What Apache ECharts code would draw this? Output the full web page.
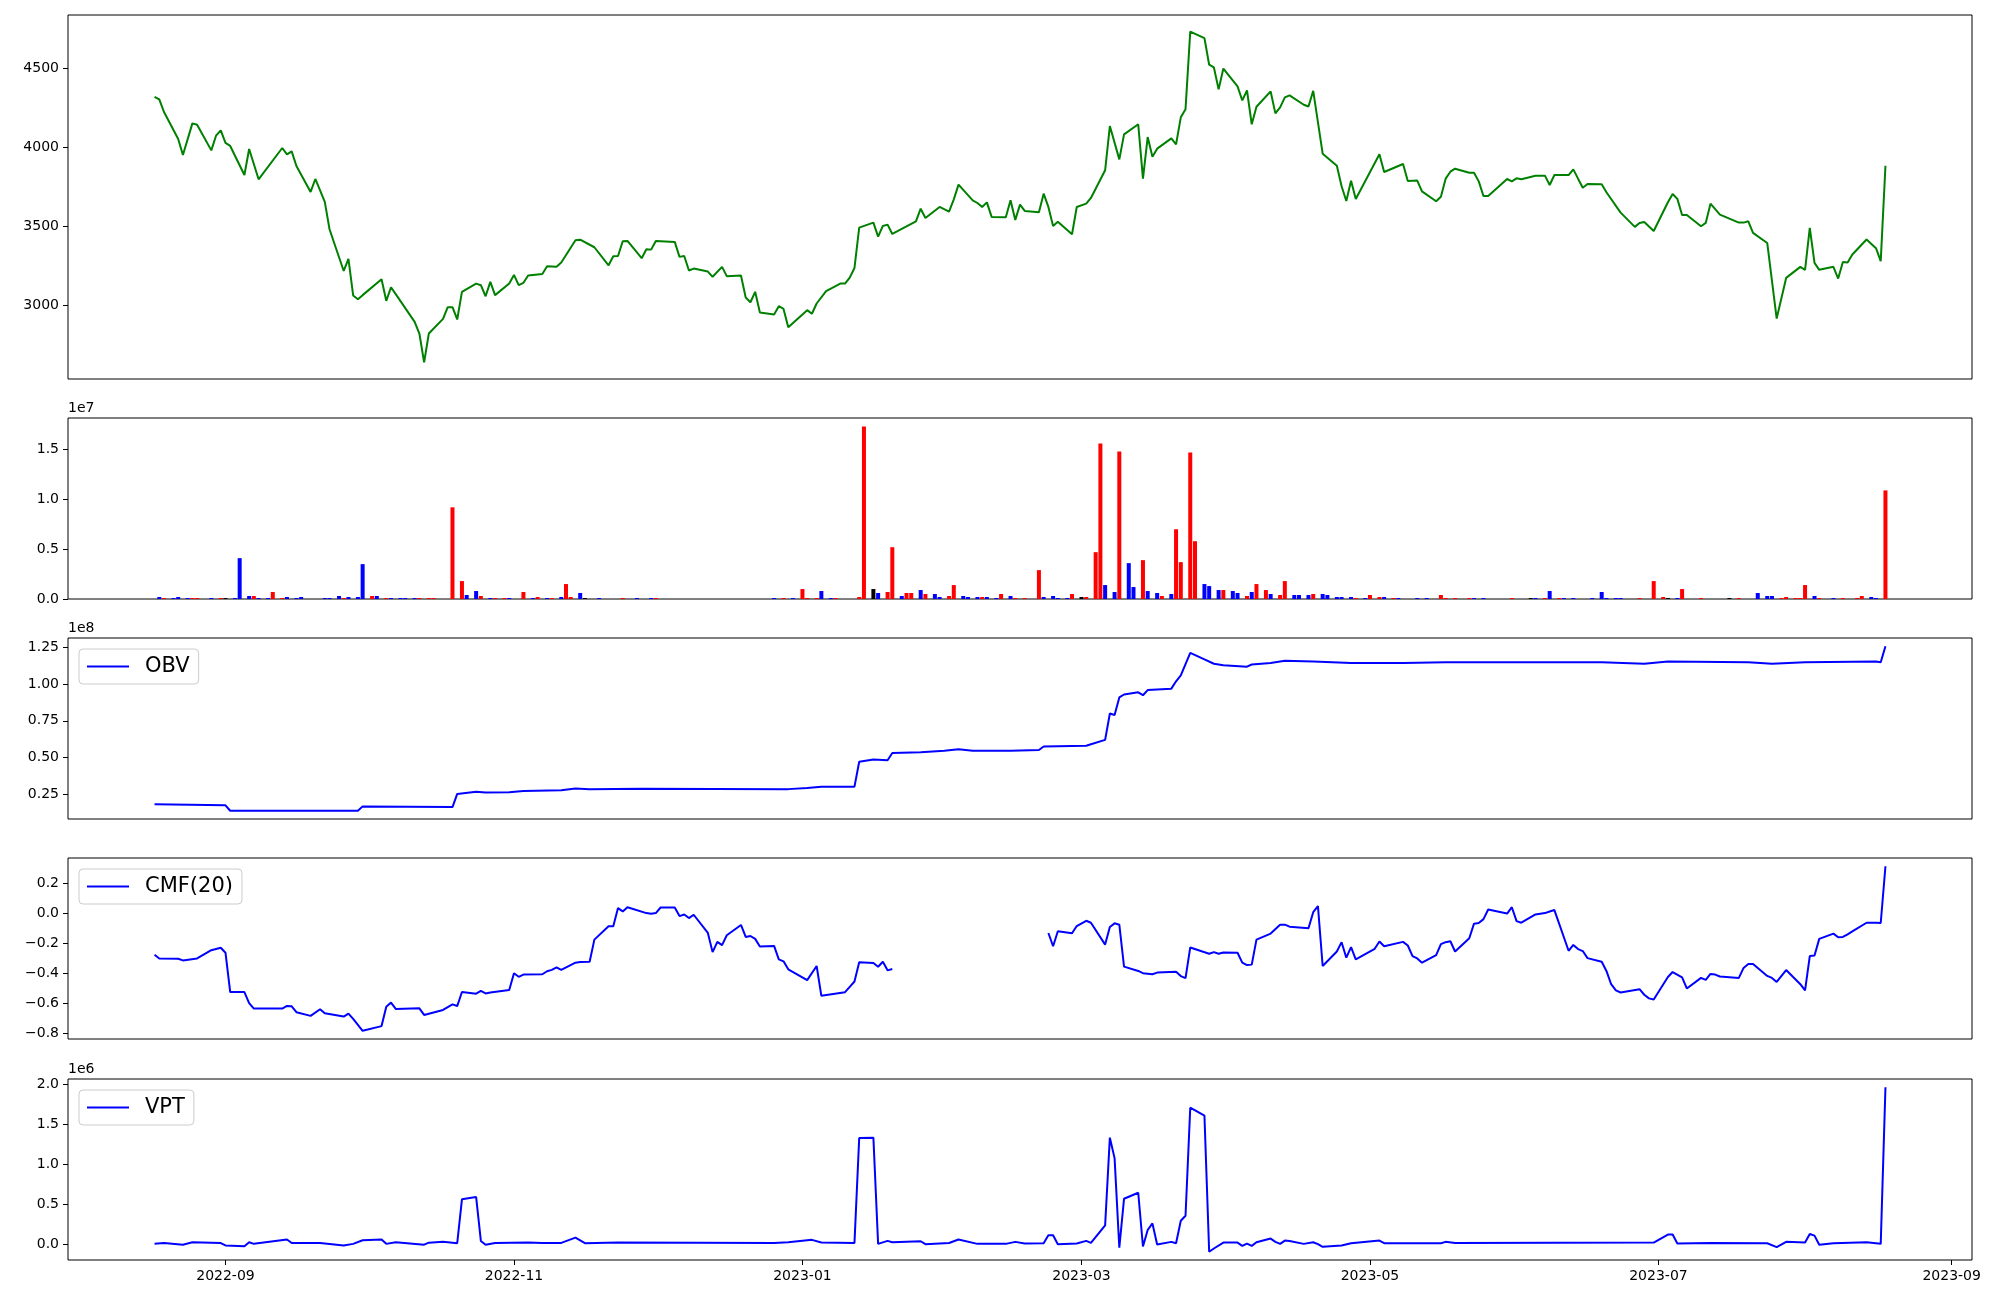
<!DOCTYPE html>
<html>
<head>
<meta charset="utf-8">
<title>Price, volume and volume indicators</title>
<script src="https://cdn.jsdelivr.net/npm/echarts@6/dist/echarts.min.js"></script>
<style>
  html, body { margin: 0; padding: 0; background: #fff; }
  #chart { width: 2000px; height: 1300px; }
</style>
</head>
<body>
<div id="chart"></div>
<script>
// ---- values ----

// closing price (turning points of the line)
const priceDates = [
  '2022-08-17','2022-08-18','2022-08-19','2022-08-22','2022-08-23','2022-08-25','2022-08-26','2022-08-29','2022-08-30','2022-08-31',
  '2022-09-01','2022-09-02','2022-09-05','2022-09-06','2022-09-08','2022-09-13','2022-09-14','2022-09-15','2022-09-16','2022-09-19',
  '2022-09-20','2022-09-22','2022-09-23','2022-09-26','2022-09-27','2022-09-28','2022-09-29','2022-09-30','2022-10-04','2022-10-05',
  '2022-10-06','2022-10-07','2022-10-11','2022-10-12','2022-10-13','2022-10-14','2022-10-17','2022-10-18','2022-10-19','2022-10-20',
  '2022-10-21','2022-10-24','2022-10-25','2022-10-26','2022-10-27','2022-10-28','2022-10-31','2022-11-01','2022-11-02','2022-11-03',
  '2022-11-04','2022-11-07','2022-11-08','2022-11-10','2022-11-11','2022-11-14','2022-11-15','2022-11-18','2022-11-21','2022-11-22',
  '2022-11-23','2022-11-24','2022-11-25','2022-11-28','2022-11-29','2022-11-30','2022-12-01','2022-12-05','2022-12-06','2022-12-07',
  '2022-12-08','2022-12-09','2022-12-12','2022-12-13','2022-12-15','2022-12-16','2022-12-19','2022-12-20','2022-12-21','2022-12-22',
  '2022-12-23','2022-12-26','2022-12-27','2022-12-28','2022-12-29','2023-01-02','2023-01-03','2023-01-04','2023-01-06','2023-01-09',
  '2023-01-10','2023-01-11','2023-01-12','2023-01-13','2023-01-16','2023-01-17','2023-01-18','2023-01-19','2023-01-20','2023-01-25',
  '2023-01-26','2023-01-27','2023-01-30','2023-02-01','2023-02-02','2023-02-03','2023-02-06','2023-02-07','2023-02-08','2023-02-09',
  '2023-02-10','2023-02-13','2023-02-14','2023-02-15','2023-02-16','2023-02-17','2023-02-20','2023-02-21','2023-02-22','2023-02-23',
  '2023-02-24','2023-02-27','2023-02-28','2023-03-02','2023-03-03','2023-03-06','2023-03-07','2023-03-09','2023-03-10','2023-03-13',
  '2023-03-14','2023-03-15','2023-03-16','2023-03-17','2023-03-20','2023-03-21','2023-03-22','2023-03-23','2023-03-24','2023-03-27',
  '2023-03-28','2023-03-29','2023-03-30','2023-03-31','2023-04-03','2023-04-04','2023-04-05','2023-04-06','2023-04-07','2023-04-10',
  '2023-04-11','2023-04-12','2023-04-13','2023-04-14','2023-04-17','2023-04-18','2023-04-19','2023-04-21','2023-04-24','2023-04-25',
  '2023-04-26','2023-04-27','2023-04-28','2023-05-03','2023-05-04','2023-05-08','2023-05-09','2023-05-11','2023-05-12','2023-05-15',
  '2023-05-16','2023-05-17','2023-05-18','2023-05-19','2023-05-22','2023-05-23','2023-05-24','2023-05-25','2023-05-26','2023-05-30',
  '2023-05-31','2023-06-01','2023-06-02','2023-06-05','2023-06-07','2023-06-08','2023-06-09','2023-06-12','2023-06-13','2023-06-14',
  '2023-06-15','2023-06-16','2023-06-19','2023-06-20','2023-06-23','2023-06-26','2023-06-27','2023-06-28','2023-06-30','2023-07-03',
  '2023-07-04','2023-07-05','2023-07-06','2023-07-07','2023-07-10','2023-07-11','2023-07-12','2023-07-14','2023-07-18','2023-07-19',
  '2023-07-20','2023-07-21','2023-07-24','2023-07-26','2023-07-28','2023-07-31','2023-08-01','2023-08-02','2023-08-03','2023-08-04',
  '2023-08-07','2023-08-08','2023-08-09','2023-08-10','2023-08-11','2023-08-14','2023-08-16','2023-08-17','2023-08-18'
];
const priceVals = [
  4318,4302,4222,4051,3950,4150,4141,3979,4072,4106,
  4026,4007,3823,3988,3796,3994,3954,3973,3880,3716,
  3798,3653,3480,3216,3292,3061,3037,3063,3164,3027,
  3113,3069,2894,2820,2637,2820,2913,2987,2987,2909,
  3084,3136,3126,3056,3147,3063,3136,3191,3126,3141,
  3187,3197,3246,3242,3269,3410,3414,3366,3252,3309,
  3311,3404,3406,3297,3353,3351,3406,3400,3305,3311,
  3219,3231,3212,3179,3242,3183,3187,3048,3018,3084,
  2953,2940,2993,2976,2860,2968,2945,3010,3088,3136,
  3136,3174,3235,3490,3522,3433,3501,3509,3450,3530,
  3610,3551,3621,3591,3669,3762,3663,3646,3621,3650,
  3558,3556,3663,3539,3636,3596,3587,3705,3621,3501,
  3528,3448,3621,3642,3678,3853,4133,3922,4080,4144,
  3800,4063,3939,3990,4055,4017,4188,4240,4731,4689,
  4521,4504,4365,4497,4384,4295,4358,4144,4255,4352,
  4213,4251,4314,4327,4268,4257,4356,3958,3882,3752,
  3659,3787,3671,3954,3842,3893,3785,3788,3720,3657,
  3686,3800,3844,3863,3838,3838,3783,3690,3690,3798,
  3783,3802,3796,3819,3819,3760,3823,3823,3859,3800,
  3743,3766,3764,3714,3585,3495,3520,3526,3469,3651,
  3703,3672,3570,3570,3499,3520,3642,3572,3522,3522,
  3530,3457,3393,2915,3172,3242,3223,3488,3267,3223,
  3242,3168,3273,3269,3320,3415,3360,3278,3882
];

// volume bars: r = red, b = blue, k = black
const volDates = [
  '2022-08-18','2022-08-19','2022-08-21','2022-08-22','2022-08-24','2022-08-25','2022-08-26','2022-08-29','2022-08-31','2022-09-01',
  '2022-09-03','2022-09-04','2022-09-06','2022-09-07','2022-09-08','2022-09-10','2022-09-11','2022-09-13','2022-09-14','2022-09-16',
  '2022-09-17','2022-09-22','2022-09-23','2022-09-25','2022-09-26','2022-09-27','2022-09-29','2022-09-30','2022-10-02','2022-10-03',
  '2022-10-05','2022-10-06','2022-10-08','2022-10-09','2022-10-11','2022-10-12','2022-10-14','2022-10-15','2022-10-19','2022-10-21',
  '2022-10-22','2022-10-24','2022-10-25','2022-10-27','2022-10-28','2022-10-30','2022-10-31','2022-11-03','2022-11-05','2022-11-06',
  '2022-11-08','2022-11-09','2022-11-11','2022-11-12','2022-11-13','2022-11-15','2022-11-16','2022-11-19','2022-11-24','2022-11-27',
  '2022-11-30','2022-12-01',
  '2022-12-26','2022-12-28','2022-12-30','2023-01-01','2023-01-02','2023-01-04','2023-01-05','2023-01-07','2023-01-08','2023-01-13',
  '2023-01-14','2023-01-16','2023-01-17','2023-01-19','2023-01-20','2023-01-22','2023-01-23','2023-01-24','2023-01-26','2023-01-27',
  '2023-01-29','2023-01-30','2023-02-01','2023-02-02','2023-02-04','2023-02-05','2023-02-07','2023-02-08','2023-02-09','2023-02-11',
  '2023-02-12','2023-02-14','2023-02-15','2023-02-17','2023-02-20','2023-02-21','2023-02-23','2023-02-24','2023-02-26','2023-02-27',
  '2023-03-01','2023-03-02','2023-03-04','2023-03-05','2023-03-06','2023-03-08','2023-03-09','2023-03-11','2023-03-12','2023-03-14',
  '2023-03-15','2023-03-17','2023-03-18','2023-03-20','2023-03-21','2023-03-22','2023-03-24','2023-03-25','2023-03-27','2023-03-28',
  '2023-03-30','2023-03-31','2023-04-02','2023-04-03','2023-04-05','2023-04-06','2023-04-07','2023-04-09','2023-04-10','2023-04-12',
  '2023-04-13','2023-04-15','2023-04-16','2023-04-18','2023-04-19',
  '2023-04-21','2023-04-22','2023-04-24','2023-04-25','2023-04-27','2023-04-28','2023-04-30','2023-05-01','2023-05-03','2023-05-04',
  '2023-05-06','2023-05-07','2023-05-11','2023-05-13','2023-05-16','2023-05-17','2023-05-19','2023-05-22','2023-05-23','2023-05-25',
  '2023-05-31','2023-06-04','2023-06-05','2023-06-07','2023-06-08','2023-06-10','2023-06-11','2023-06-13','2023-06-17','2023-06-19',
  '2023-06-20','2023-06-22','2023-06-23','2023-06-27','2023-06-30','2023-07-02','2023-07-03','2023-07-05','2023-07-06','2023-07-10',
  '2023-07-16','2023-07-18','2023-07-22','2023-07-24','2023-07-25','2023-07-27','2023-07-28','2023-07-30','2023-07-31','2023-08-01',
  '2023-08-03','2023-08-04','2023-08-07','2023-08-09','2023-08-12','2023-08-13','2023-08-15','2023-08-16','2023-08-18'
];
const volVals = [
  2e5,1e5,1e5,2e5,1e5,1e5,1e5,1e5,1e5,1e5,
  1e5,41e5,3e5,3e5,1e5,1e5,7e5,1e5,2e5,1e5,
  2e5,1e5,1e5,3e5,1e5,2e5,2e5,35e5,3e5,3e5,
  1e5,1e5,1e5,1e5,1e5,1e5,1e5,1e5,92e5,18e5,
  4e5,8e5,3e5,1e5,1e5,1e5,1e5,7e5,1e5,2e5,
  1e5,1e5,2e5,15e5,2e5,6e5,1e5,1e5,1e5,1e5,
  1e5,1e5,
  1e5,1e5,1e5,10e5,1e5,1e5,8e5,1e5,1e5,2e5,
  173e5,10e5,6e5,7e5,52e5,3e5,6e5,6e5,9e5,5e5,
  5e5,2e5,3e5,14e5,3e5,2e5,2e5,2e5,2e5,1e5,
  5e5,3e5,1e5,1e5,29e5,2e5,3e5,1e5,1e5,5e5,
  2e5,2e5,47e5,156e5,14e5,7e5,148e5,36e5,12e5,39e5,
  8e5,6e5,3e5,5e5,70e5,37e5,147e5,58e5,15e5,13e5,
  9e5,9e5,8e5,6e5,3e5,7e5,15e5,9e5,5e5,4e5,
  18e5,4e5,4e5,4e5,5e5,
  5e5,4e5,2e5,2e5,2e5,1e5,1e5,4e5,2e5,2e5,
  1e5,1e5,1e5,1e5,4e5,1e5,1e5,1e5,1e5,1e5,
  1e5,1e5,1e5,1e5,8e5,1e5,1e5,1e5,1e5,7e5,
  1e5,1e5,1e5,1e5,18e5,2e5,1e5,1e5,10e5,1e5,
  1e5,1e5,6e5,3e5,3e5,1e5,2e5,1e5,1e5,14e5,
  3e5,1e5,1e5,1e5,1e5,3e5,2e5,1e5,109e5
];
const volColors = [
  'b','r','b','b','b','r','r','b','r','k',
  'b','b','b','r','b','b','r','r','b','b',
  'b','b','b','b','r','b','b','b','r','b',
  'r','b','b','b','b','r','r','r','r','r',
  'b','b','r','b','r','r','b','r','b','r',
  'b','r','b','r','r','b','k','b','r','b',
  'b','r',
  'b','r','b','r','r','r','b','b','r','r',
  'r','k','b','r','r','b','r','r','b','r',
  'b','b','r','r','b','b','b','r','b','b',
  'r','b','r','r','r','b','b','b','b','r',
  'k','r','r','r','b','b','r','b','b','r',
  'b','b','r','b','r','r','r','r','b','b',
  'b','r','b','b','r','b','r','r','b','r',
  'r','b','b','b','r',
  'b','b','b','b','b','r','b','r','r','b',
  'r','b','b','b','r','r','r','r','b','b',
  'r','k','b','r','b','r','b','b','b','b',
  'b','b','b','r','r','r','k','b','r','r',
  'k','r','b','b','b','r','r','r','r','r',
  'b','r','b','r','r','r','b','b','r'
];

// on-balance volume
const obvDates = [
  '2022-08-17','2022-09-01','2022-09-02','2022-09-29','2022-09-30','2022-10-19','2022-10-20','2022-10-24','2022-10-26','2022-10-31',
  '2022-11-03','2022-11-11','2022-11-14','2022-11-17','2022-11-28','2022-12-29','2023-01-02','2023-01-05','2023-01-12','2023-01-13',
  '2023-01-16','2023-01-19','2023-01-20','2023-01-26','2023-01-31','2023-02-03','2023-02-06','2023-02-14','2023-02-20','2023-02-21',
  '2023-03-02','2023-03-03','2023-03-06','2023-03-07','2023-03-08','2023-03-09','2023-03-10','2023-03-13','2023-03-14','2023-03-15',
  '2023-03-20','2023-03-21','2023-03-22','2023-03-24','2023-03-27','2023-03-29','2023-03-31','2023-04-05','2023-04-06','2023-04-10',
  '2023-04-13','2023-04-19','2023-04-27','2023-05-08','2023-05-17','2023-06-19','2023-06-28','2023-07-03','2023-07-20','2023-07-25',
  '2023-08-01','2023-08-16','2023-08-17','2023-08-18'
];
const obvVals = [
  0.180e8,0.172e8,0.135e8,0.135e8,0.165e8,0.160e8,0.250e8,0.265e8,0.260e8,0.262e8,
  0.270e8,0.275e8,0.288e8,0.282e8,0.285e8,0.283e8,0.290e8,0.300e8,0.300e8,0.470e8,
  0.485e8,0.480e8,0.530e8,0.535e8,0.545e8,0.555e8,0.545e8,0.545e8,0.550e8,0.575e8,
  0.580e8,0.590e8,0.620e8,0.800e8,0.790e8,0.910e8,0.930e8,0.945e8,0.925e8,0.960e8,
  0.970e8,1.020e8,1.060e8,1.215e8,1.170e8,1.140e8,1.130e8,1.120e8,1.135e8,1.145e8,
  1.160e8,1.155e8,1.145e8,1.145e8,1.150e8,1.150e8,1.140e8,1.155e8,1.150e8,1.140e8,
  1.150e8,1.155e8,1.150e8,1.260e8
];

// Chaikin money flow (20); null = no value in that stretch
const cmfDates = [
  '2022-08-17','2022-08-18','2022-08-22','2022-08-23','2022-08-26','2022-08-29','2022-08-31','2022-09-01','2022-09-02','2022-09-05',
  '2022-09-06','2022-09-07','2022-09-13','2022-09-14','2022-09-15','2022-09-16','2022-09-19','2022-09-21','2022-09-22','2022-09-26',
  '2022-09-27','2022-09-28','2022-09-30','2022-10-04','2022-10-05','2022-10-06','2022-10-07','2022-10-12','2022-10-13','2022-10-17',
  '2022-10-19','2022-10-20','2022-10-21','2022-10-24','2022-10-25','2022-10-26','2022-10-27','2022-10-31','2022-11-01','2022-11-02',
  '2022-11-03','2022-11-07','2022-11-08','2022-11-09','2022-11-10','2022-11-11','2022-11-14','2022-11-15','2022-11-17','2022-11-18',
  '2022-11-21','2022-11-22','2022-11-23','2022-11-24','2022-11-25','2022-11-29','2022-11-30','2022-12-01','2022-12-02','2022-12-05',
  '2022-12-06','2022-12-07','2022-12-08','2022-12-09','2022-12-12','2022-12-13','2022-12-14','2022-12-15','2022-12-16','2022-12-19',
  '2022-12-20','2022-12-21','2022-12-22','2022-12-23','2022-12-26','2022-12-27','2022-12-28','2022-12-29','2023-01-02','2023-01-04',
  '2023-01-05','2023-01-10','2023-01-11','2023-01-12','2023-01-13','2023-01-16','2023-01-17','2023-01-18','2023-01-19','2023-01-20',
  '2023-02-01',
  '2023-02-22','2023-02-23','2023-02-24','2023-02-27','2023-02-28','2023-03-02','2023-03-03','2023-03-06','2023-03-07','2023-03-08',
  '2023-03-09','2023-03-10','2023-03-13','2023-03-14','2023-03-16','2023-03-17','2023-03-21','2023-03-22','2023-03-23','2023-03-24',
  '2023-03-28','2023-03-29','2023-03-30','2023-03-31','2023-04-03','2023-04-04','2023-04-05','2023-04-06','2023-04-07','2023-04-10',
  '2023-04-12','2023-04-13','2023-04-14','2023-04-18','2023-04-19','2023-04-20','2023-04-21','2023-04-24','2023-04-25','2023-04-26',
  '2023-04-27','2023-04-28','2023-05-02','2023-05-03','2023-05-04','2023-05-08','2023-05-09','2023-05-10','2023-05-11','2023-05-12',
  '2023-05-15','2023-05-16','2023-05-17','2023-05-18','2023-05-19','2023-05-22','2023-05-23','2023-05-24','2023-05-25','2023-05-26',
  '2023-05-30','2023-05-31','2023-06-01','2023-06-02','2023-06-05','2023-06-07','2023-06-08','2023-06-09','2023-06-12','2023-06-13',
  '2023-06-14','2023-06-15','2023-06-16','2023-06-19','2023-06-20','2023-06-21','2023-06-22','2023-06-23','2023-06-27','2023-06-28',
  '2023-06-29','2023-06-30','2023-07-03','2023-07-04','2023-07-06','2023-07-07','2023-07-10','2023-07-11','2023-07-12','2023-07-13',
  '2023-07-14','2023-07-18','2023-07-19','2023-07-20','2023-07-21','2023-07-24','2023-07-25','2023-07-26','2023-07-28','2023-07-31',
  '2023-08-01','2023-08-02','2023-08-03','2023-08-04','2023-08-07','2023-08-08','2023-08-09','2023-08-10','2023-08-11','2023-08-14',
  '2023-08-16','2023-08-17','2023-08-18'
];
const cmfVals = [
  -0.277,-0.301,-0.303,-0.314,-0.301,-0.246,-0.230,-0.263,-0.524,-0.524,
  -0.597,-0.634,-0.634,-0.616,-0.619,-0.658,-0.682,-0.638,-0.665,-0.687,
  -0.667,-0.702,-0.781,-0.750,-0.621,-0.594,-0.636,-0.632,-0.676,-0.643,
  -0.606,-0.617,-0.524,-0.535,-0.516,-0.533,-0.527,-0.511,-0.399,-0.423,
  -0.408,-0.406,-0.386,-0.377,-0.360,-0.377,-0.329,-0.325,-0.323,-0.176,
  -0.088,-0.088,0.033,0.011,0.039,0.000,-0.005,0.000,0.037,0.037,
  -0.020,-0.009,-0.033,-0.011,-0.132,-0.259,-0.191,-0.213,-0.147,-0.079,
  -0.158,-0.152,-0.171,-0.222,-0.218,-0.307,-0.320,-0.373,-0.445,-0.351,
  -0.549,-0.525,-0.490,-0.454,-0.327,-0.331,-0.356,-0.323,-0.380,-0.371,
  null,
  -0.132,-0.220,-0.121,-0.134,-0.086,-0.051,-0.064,-0.209,-0.092,-0.068,
  -0.077,-0.355,-0.384,-0.399,-0.406,-0.395,-0.389,-0.418,-0.432,-0.228,
  -0.270,-0.259,-0.270,-0.261,-0.263,-0.329,-0.345,-0.342,-0.176,-0.136,
  -0.077,-0.077,-0.090,-0.101,0.006,0.046,-0.351,-0.255,-0.193,-0.296,
  -0.226,-0.307,-0.237,-0.189,-0.220,-0.191,-0.215,-0.285,-0.301,-0.329,
  -0.279,-0.206,-0.193,-0.187,-0.255,-0.167,-0.070,-0.066,-0.040,0.024,
  -0.003,0.039,-0.053,-0.064,-0.009,0.000,0.011,0.020,-0.250,-0.211,
  -0.239,-0.252,-0.299,-0.323,-0.384,-0.472,-0.513,-0.527,-0.505,-0.542,
  -0.566,-0.573,-0.424,-0.391,-0.426,-0.500,-0.430,-0.443,-0.404,-0.408,
  -0.421,-0.430,-0.364,-0.338,-0.338,-0.417,-0.430,-0.457,-0.378,-0.472,
  -0.513,-0.285,-0.281,-0.171,-0.136,-0.160,-0.158,-0.141,-0.121,-0.064,
  -0.064,-0.066,0.311
];

// volume price trend
const vptDates = [
  '2022-08-17','2022-08-19','2022-08-23','2022-08-25','2022-08-31','2022-09-01','2022-09-05','2022-09-06','2022-09-07','2022-09-14',
  '2022-09-15','2022-09-21','2022-09-26','2022-09-28','2022-09-30','2022-10-04','2022-10-05','2022-10-07','2022-10-13','2022-10-14',
  '2022-10-17','2022-10-20','2022-10-21','2022-10-24','2022-10-25','2022-10-26','2022-10-28','2022-11-04','2022-11-07','2022-11-11',
  '2022-11-14','2022-11-16','2022-11-23','2022-12-26','2022-12-29','2023-01-03','2023-01-05','2023-01-12','2023-01-13','2023-01-16',
  '2023-01-17','2023-01-19','2023-01-20','2023-01-26','2023-01-27','2023-02-01','2023-02-03','2023-02-07','2023-02-13','2023-02-15',
  '2023-02-17','2023-02-21','2023-02-22','2023-02-23','2023-02-24','2023-02-28','2023-03-02','2023-03-03','2023-03-06','2023-03-07',
  '2023-03-08','2023-03-09','2023-03-10','2023-03-13','2023-03-14','2023-03-15','2023-03-16','2023-03-17','2023-03-20','2023-03-21',
  '2023-03-22','2023-03-23','2023-03-24','2023-03-27','2023-03-28','2023-03-29','2023-03-31','2023-04-03','2023-04-04','2023-04-05',
  '2023-04-06','2023-04-07','2023-04-10','2023-04-11','2023-04-12','2023-04-13','2023-04-14','2023-04-17','2023-04-19','2023-04-20',
  '2023-04-21','2023-04-25','2023-04-27','2023-05-03','2023-05-04','2023-05-16','2023-05-17','2023-05-19','2023-06-30','2023-07-03',
  '2023-07-04','2023-07-05','2023-07-12','2023-07-24','2023-07-26','2023-07-28','2023-08-01','2023-08-02','2023-08-03','2023-08-04',
  '2023-08-07','2023-08-14','2023-08-17','2023-08-18'
];
const vptVals = [
  0.000e6,0.010e6,-0.010e6,0.020e6,0.010e6,-0.020e6,-0.030e6,0.020e6,0.000e6,0.054e6,
  0.010e6,0.010e6,-0.020e6,0.000e6,0.045e6,0.054e6,0.000e6,0.020e6,-0.010e6,0.015e6,
  0.025e6,0.008e6,0.557e6,0.586e6,0.037e6,-0.012e6,0.012e6,0.016e6,0.012e6,0.012e6,
  0.078e6,0.008e6,0.016e6,0.010e6,0.020e6,0.050e6,0.016e6,0.012e6,1.324e6,1.328e6,
  0.000e6,0.037e6,0.020e6,0.033e6,-0.004e6,0.010e6,0.054e6,0.000e6,0.000e6,0.025e6,
  0.004e6,0.008e6,0.107e6,0.107e6,-0.004e6,0.004e6,0.037e6,0.012e6,0.231e6,1.329e6,
  1.073e6,-0.049e6,0.565e6,0.640e6,-0.033e6,0.173e6,0.256e6,-0.008e6,0.025e6,0.008e6,
  0.289e6,0.351e6,1.704e6,1.605e6,-0.099e6,-0.058e6,0.016e6,0.016e6,-0.025e6,0.004e6,
  -0.025e6,0.020e6,0.066e6,0.025e6,0.000e6,0.041e6,0.037e6,0.000e6,0.020e6,-0.004e6,
  -0.037e6,-0.021e6,0.008e6,0.041e6,0.008e6,0.008e6,0.025e6,0.012e6,0.016e6,0.116e6,
  0.116e6,0.004e6,0.012e6,0.008e6,-0.041e6,0.025e6,0.016e6,0.124e6,0.103e6,-0.012e6,
  0.008e6,0.020e6,0.000e6,1.960e6
];

// axis ticks as printed in the picture
const xTickLabels = ['2022-09','2022-11','2023-01','2023-03','2023-05','2023-07','2023-09'];
const priceTicks = [3000, 3500, 4000, 4500];
const priceTickLabels = ['3000', '3500', '4000', '4500'];
const volTicks = [0, 0.5e7, 1.0e7, 1.5e7];
const volTickLabels = ['0.0', '0.5', '1.0', '1.5'];
const obvTicks = [0.25e8, 0.5e8, 0.75e8, 1.0e8, 1.25e8];
const obvTickLabels = ['0.25', '0.50', '0.75', '1.00', '1.25'];
const cmfTicks = [-0.8, -0.6, -0.4, -0.2, 0.0, 0.2];
const cmfTickLabels = ['\u22120.8', '\u22120.6', '\u22120.4', '\u22120.2', '0.0', '0.2'];
const vptTicks = [0, 0.5e6, 1.0e6, 1.5e6, 2.0e6];
const vptTickLabels = ['0.0', '0.5', '1.0', '1.5', '2.0'];

// ---- chart ----
const FONT = 'DejaVu Sans';
const barColor = { r: '#ff0000', b: '#0000ff', k: '#000000' };

const ts = s => Date.parse(s);
const pairs = (dates, vals) => dates.map((d, i) => [ts(d), vals[i] === null ? '-' : vals[i]]);

// matplotlib-style 5% margins
function padRange(vals) {
  const v = vals.filter(x => x !== null);
  const lo = Math.min(...v), hi = Math.max(...v);
  const m = (hi - lo) * 0.05;
  return [lo - m, hi + m];
}

const firstDay = ts(priceDates[0]);
const lastDay = ts(priceDates[priceDates.length - 1]);
const xSpan = lastDay - firstDay;
const xMin = firstDay - 0.05 * xSpan;
const xMax = lastDay + 0.05 * xSpan;
const xTicks = xTickLabels.map(s => ts(s + '-01'));

const grids = [
  { left: 68, right: 28, top: 15, height: 364 },
  { left: 68, right: 28, top: 418, height: 181 },
  { left: 68, right: 28, top: 638, height: 181 },
  { left: 68, right: 28, top: 858, height: 181 },
  { left: 68, right: 28, top: 1079, height: 181 }
].map(g => Object.assign({ show: true, borderColor: '#000', borderWidth: 1, containLabel: false }, g));

function labelLookup(ticks, labels) {
  return v => {
    let best = 0;
    ticks.forEach((t, i) => { if (Math.abs(t - v) < Math.abs(ticks[best] - v)) best = i; });
    return labels[best];
  };
}

function makeX(i, last) {
  return {
    type: 'value', gridIndex: i, min: xMin, max: xMax, position: 'bottom',
    axisLine: { show: false, onZero: false },
    splitLine: { show: false },
    axisTick: last ? { show: true, length: 5, lineStyle: { color: '#000', width: 1 }, customValues: xTicks } : { show: false },
    axisLabel: last ? {
      show: true, customValues: xTicks, margin: 9,
      color: '#000', fontSize: 14, fontFamily: FONT,
      formatter: labelLookup(xTicks, xTickLabels)
    } : { show: false }
  };
}

function makeY(i, range, ticks, labels, offsetText) {
  const ax = {
    type: 'value', gridIndex: i, min: range[0], max: range[1], position: 'left',
    axisLine: { show: false, onZero: false },
    splitLine: { show: false },
    axisTick: { show: true, length: 5, lineStyle: { color: '#000', width: 1 }, customValues: ticks },
    axisLabel: {
      customValues: ticks, margin: 9,
      color: '#000', fontSize: 14, fontFamily: FONT,
      formatter: labelLookup(ticks, labels)
    }
  };
  if (offsetText) {
    ax.name = offsetText;
    ax.nameLocation = 'end';
    ax.nameGap = 3;
    ax.nameTextStyle = { align: 'left', verticalAlign: 'bottom', color: '#000', fontSize: 14, fontFamily: FONT };
  }
  return ax;
}

function makeLegend(name, top) {
  return {
    data: [name], left: 79, top: top,
    icon: 'rect', itemWidth: 42, itemHeight: 2,
    padding: [7, 9, 7, 8],
    backgroundColor: 'rgba(255,255,255,0.8)',
    borderColor: '#cccccc', borderWidth: 1, borderRadius: 4,
    selectedMode: false,
    textStyle: { color: '#000', fontSize: 21, fontFamily: FONT, padding: [0, 0, 0, 11] }
  };
}

const volData = volDates.map((d, i) => ({
  value: [ts(d), volVals[i]],
  itemStyle: { color: barColor[volColors[i]] }
}));

const lineSeries = (name, axisIdx, data, color) => ({
  name: name, type: 'line', xAxisIndex: axisIdx, yAxisIndex: axisIdx,
  data: data, showSymbol: false, symbol: 'none', color: color,
  lineStyle: { width: 2, color: color },
  connectNulls: false
});

const option = {
  animation: false,
  backgroundColor: '#fff',
  textStyle: { fontFamily: FONT },
  grid: grids,
  legend: [
    makeLegend('OBV', 649),
    makeLegend('CMF(20)', 869),
    makeLegend('VPT', 1090)
  ],
  xAxis: [0, 1, 2, 3, 4].map(i => makeX(i, i === 4)),
  yAxis: [
    makeY(0, padRange(priceVals), priceTicks, priceTickLabels, null),
    makeY(1, [0, Math.max(...volVals) * 1.05], volTicks, volTickLabels, '1e7'),
    makeY(2, padRange(obvVals), obvTicks, obvTickLabels, '1e8'),
    makeY(3, padRange(cmfVals), cmfTicks, cmfTickLabels, null),
    makeY(4, padRange(vptVals), vptTicks, vptTickLabels, '1e6')
  ],
  series: [
    lineSeries('Close', 0, pairs(priceDates, priceVals), '#008000'),
    {
      name: 'Volume', type: 'bar', xAxisIndex: 1, yAxisIndex: 1,
      data: volData, barWidth: 4
    },
    lineSeries('OBV', 2, pairs(obvDates, obvVals), '#0000ff'),
    lineSeries('CMF(20)', 3, pairs(cmfDates, cmfVals), '#0000ff'),
    lineSeries('VPT', 4, pairs(vptDates, vptVals), '#0000ff')
  ]
};

const chart = echarts.init(document.getElementById('chart'), null, { renderer: 'canvas' });
chart.setOption(option);
</script>
</body>
</html>
